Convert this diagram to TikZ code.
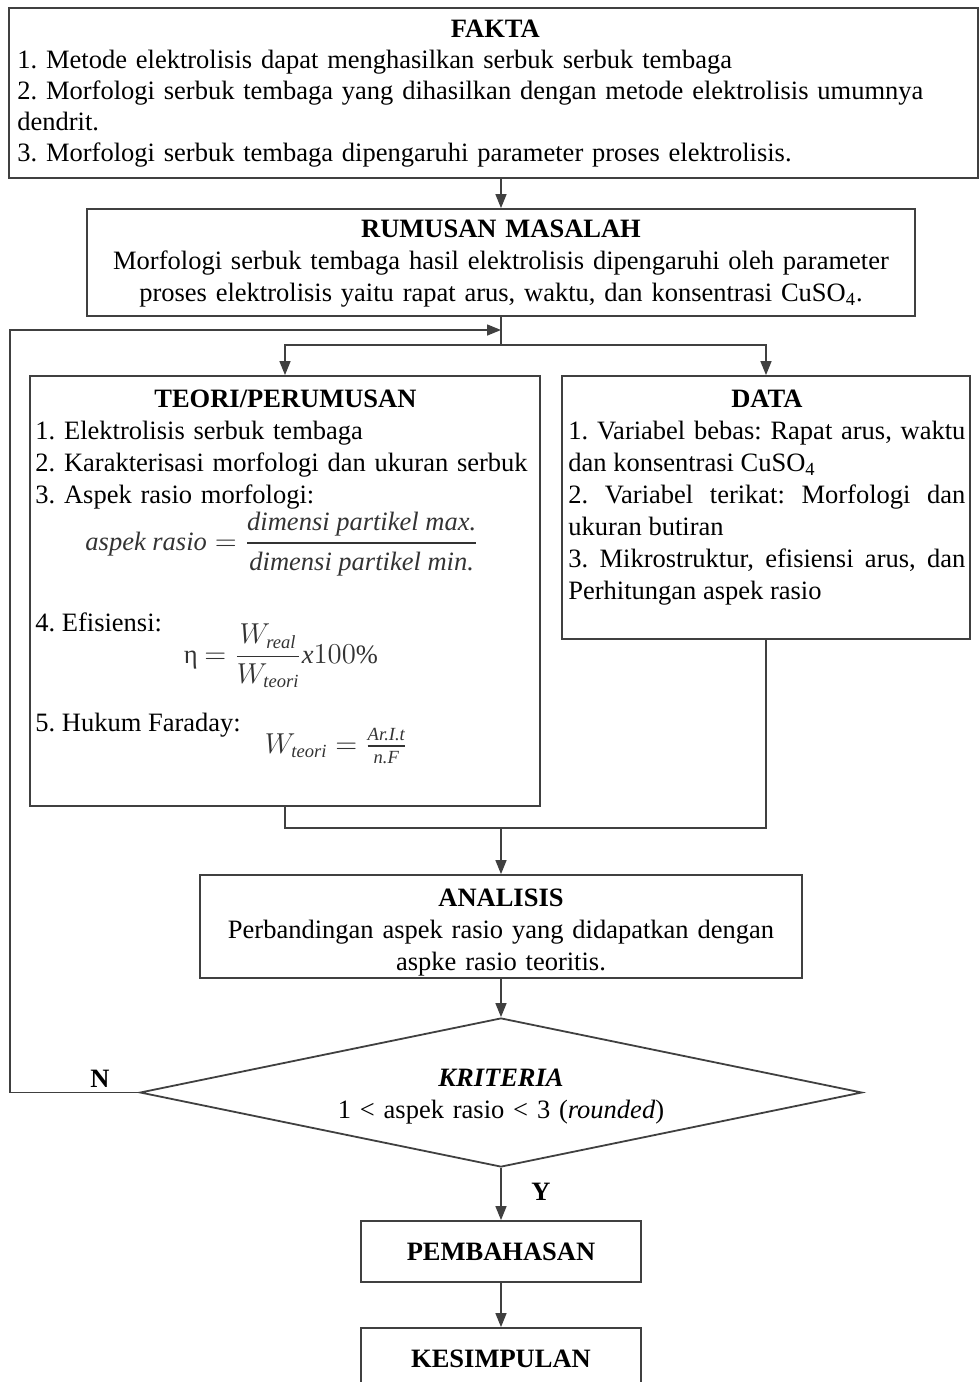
\documentclass[tikz,border=0pt]{standalone}
\usepackage{fontspec}
\setmainfont{Liberation Serif}
\usepackage{amsmath}
\usetikzlibrary{arrows.meta,shapes.geometric,fit,positioning}
\definecolor{garis}{HTML}{404040}
\newcommand{\ukuranteks}{\fontsize{13.25}{16}\selectfont}
\hyphenpenalty=10000
\exhyphenpenalty=10000
\frenchspacing

\begin{document}
\begin{tikzpicture}[x=0.5pt,y=-0.5pt,
    kotak/.style={draw=garis,line width=0.9pt,inner sep=0pt},
    teks/.style={font=\ukuranteks,inner sep=0pt},
    rumus/.style={font=\ukuranteks,text=black!80,inner sep=0pt},
    jalur/.style={draw=garis,line width=0.75pt},
    panah/.style={jalur,-{Triangle[length=7pt,width=5.5pt]}}]
  \useasboundingbox (0,0) rectangle (980,1382);

  % kotak-kotak
  \node[kotak,fit={(9,8) (978,178)}] (fakta) {};
  \node[kotak,fit={(87,209) (915,316)}] (rumusan) {};
  \node[kotak,fit={(30,376) (540,806)}] (teori) {};
  \node[kotak,fit={(562,376) (970,639)}] (data) {};
  \node[kotak,fit={(200,875) (802,978)}] (analisis) {};
  \node[kotak,diamond,minimum width=361pt,minimum height=74.5pt] (kriteria) at (501,1092.5) {};
  \node[kotak,teks,font=\ukuranteks\bfseries,minimum width=140pt,minimum height=30.5pt] (bahas) at (501,1251.5) {PEMBAHASAN};
  \node[kotak,teks,font=\ukuranteks\bfseries,minimum width=140pt,minimum height=30.5pt] (simpul) at (501,1358.5) {KESIMPULAN};

  % isi teks
  \node[teks,anchor=base west,text width=478pt,align=left,font=\fontsize{13.25}{15.5}\selectfont] (faktateks) at (17,37)
    {{\centering\textbf{FAKTA}\par}
     1. Metode elektrolisis dapat menghasilkan serbuk serbuk tembaga\\
     2. Morfologi serbuk tembaga yang dihasilkan dengan metode elektrolisis umumnya\\
     dendrit.\\
     3. Morfologi serbuk tembaga dipengaruhi parameter proses elektrolisis.};
  \node[teks,anchor=base,text width=400pt,align=center] (rumusanteks) at (501,237)
    {\textbf{RUMUSAN MASALAH}\\
     Morfologi serbuk tembaga hasil elektrolisis dipengaruhi oleh parameter\\
     proses elektrolisis yaitu rapat arus, waktu, dan konsentrasi CuSO\textsubscript{4}.};
  \node[teks,anchor=base west,text width=250pt,align=left] (teoriteks) at (35,407)
    {{\centering\textbf{TEORI/PERUMUSAN}\par}
     1. Elektrolisis serbuk tembaga\\
     2. Karakterisasi morfologi dan ukuran serbuk\\
     3. Aspek rasio morfologi:};
  \node[rumus] (aspek) at (282,544)
    {$\textit{aspek rasio} = \dfrac{\textit{dimensi partikel max.}}{\textit{dimensi partikel min.}}$};
  \node[teks,anchor=base west] (efisiensi) at (35,631) {4. Efisiensi:};
  \node[rumus] (eta) at (281,656)
    {η $= \dfrac{W_{\textit{real}}}{W_{\textit{teori}}}\textit{x}100\%$};
  \node[teks,anchor=base west] (faraday) at (35,731) {5. Hukum Faraday:};
  \node[rumus] (wteori) at (336,746)
    {$W_{\textit{teori}} = \frac{\textit{Ar.I.t}\vphantom{j}}{\textit{n.F}\vphantom{A}}$};
  \node[teks,anchor=base west,text width=198.5pt,align=justify] (datateks) at (568,407)
    {{\centering\textbf{DATA}\par}
     1. Variabel bebas: Rapat arus, waktu dan konsentrasi CuSO\textsubscript{4}\par
     2. Variabel terikat: Morfologi dan ukuran butiran\par
     3. Mikrostruktur, efisiensi arus, dan Perhitungan aspek rasio\par};
  \node[teks,anchor=base,text width=295pt,align=center] (analisisteks) at (501,906)
    {\textbf{ANALISIS}\\
     Perbandingan aspek rasio yang didapatkan dengan\\
     aspke rasio teoritis.};
  \node[teks,anchor=base,text width=250pt,align=center] (kriteriateks) at (501,1086)
    {\textbf{\textit{KRITERIA}}\\
     1 < aspek rasio < 3 (\textit{rounded})};
  \node[teks,font=\ukuranteks\bfseries,anchor=base] (labelN) at (100,1087) {N};
  \node[teks,font=\ukuranteks\bfseries,anchor=base] (labelY) at (541,1200) {Y};

  % titik bantu
  \coordinate (cabang) at (501,345);
  \coordinate (balik) at (501,330);
  \coordinate (gabung) at (501,828);
  \coordinate (kiri) at (10,0);

  % penghubung
  \draw[panah] (fakta.south -| rumusan.north) -- (rumusan.north);
  \draw[jalur] (rumusan.south) -- (cabang);
  \draw[panah] (cabang) -| (teori.north);
  \draw[panah] (cabang) -| (data.north);
  \draw[jalur] (teori.south) |- (gabung);
  \draw[jalur] (data.south) |- (gabung);
  \draw[panah] (gabung) -- (analisis.north);
  \draw[panah] (analisis.south) -- (kriteria.north);
  \draw[panah] (kriteria.west) -- (kriteria.west -| kiri) |- (balik);
  \draw[panah] (kriteria.south) -- (bahas.north);
  \draw[panah] (bahas.south) -- (simpul.north);
\end{tikzpicture}
\end{document}
